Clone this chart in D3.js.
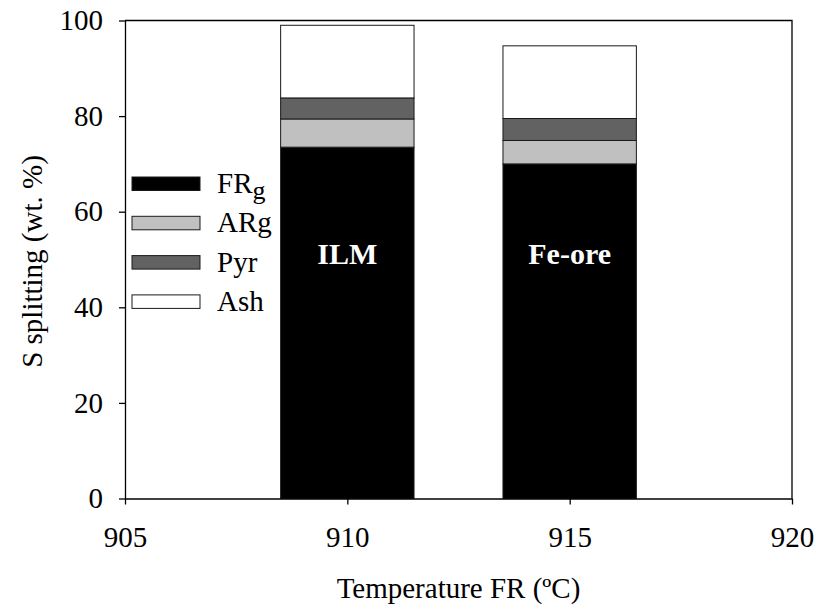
<!DOCTYPE html>
<html>
<head>
<meta charset="utf-8">
<script src="https://cdn.jsdelivr.net/npm/d3@7"></script>
<style>
  body { margin: 0; background: #fff; }
  svg text { font-family: "Liberation Serif", "Times New Roman", serif; }
</style>
</head>
<body>
<svg id="chart"></svg>
<script>
// data
const samples = ["ILM", "Fe-ore"];
const temperatures = [910, 915];
const seriesNames = ["FRg", "ARg", "Pyr", "Ash"];
const FRg = [73.5, 70.0];
const ARg = [5.9, 4.9];
const Pyr = [4.4, 4.6];
const Ash = [15.2, 15.2];
const xTicks = [905, 910, 915, 920];
const yTicks = [0, 20, 40, 60, 80, 100];

const colors = { FRg: "#000000", ARg: "#c0c0c0", Pyr: "#626262", Ash: "#ffffff" };

const width = 816, height = 610;
const margin = { top: 20.5, right: 24, bottom: 111.5, left: 125 };
const fontSize = "29px";

const svg = d3.select("#chart")
    .attr("width", width)
    .attr("height", height);

const x = d3.scaleLinear().domain([905, 920]).range([margin.left, width - margin.right]);
const y = d3.scaleLinear().domain([0, 100]).range([height - margin.bottom, margin.top]);

// stack the series
const table = samples.map((s, i) => ({
    sample: s, temp: temperatures[i],
    FRg: FRg[i], ARg: ARg[i], Pyr: Pyr[i], Ash: Ash[i]
}));
const stacked = d3.stack().keys(seriesNames)(table);

const barHalf = 1.5; // half bar width in axis units

const layers = svg.append("g").selectAll("g")
    .data(stacked)
    .enter().append("g")
    .attr("fill", d => colors[d.key]);

layers.selectAll("rect")
    .data(d => d)
    .enter().append("rect")
    .attr("x", d => x(d.data.temp - barHalf))
    .attr("width", d => x(d.data.temp + barHalf) - x(d.data.temp - barHalf))
    .attr("y", d => y(d[1]))
    .attr("height", d => y(d[0]) - y(d[1]))
    .attr("stroke", "#1a1a1a")
    .attr("stroke-width", 1);

// labels inside bars
svg.append("g").selectAll("text")
    .data(table)
    .enter().append("text")
    .attr("x", d => x(d.temp))
    .attr("y", 264)
    .attr("text-anchor", "middle")
    .attr("fill", "#fff")
    .style("font-weight", "bold")
    .style("font-size", "30px")
    .text(d => d.sample);

// frame (top + right)
svg.append("path")
    .attr("d", `M${margin.left},${margin.top}H${width - margin.right}V${height - margin.bottom}`)
    .attr("fill", "none")
    .attr("stroke", "#000")
    .attr("stroke-width", 1.3);

// axes
const xAxis = d3.axisBottom(x).tickValues(xTicks).tickSize(6).tickSizeOuter(0).tickPadding(22);
const yAxis = d3.axisLeft(y).tickValues(yTicks).tickSize(6).tickSizeOuter(0).tickPadding(16);

const gx = svg.append("g")
    .attr("transform", `translate(0,${height - margin.bottom})`)
    .call(xAxis);
const gy = svg.append("g")
    .attr("transform", `translate(${margin.left},0)`)
    .call(yAxis);

[gx, gy].forEach(g => {
    g.selectAll("path, line").attr("stroke", "#000").attr("stroke-width", 1.3);
    g.selectAll("text")
        .attr("fill", "#000")
        .style("font-family", '"Liberation Serif", serif')
        .style("font-size", fontSize);
});

// axis titles
svg.append("text")
    .attr("x", (x(905) + x(920)) / 2)
    .attr("y", 598)
    .attr("text-anchor", "middle")
    .style("font-size", fontSize)
    .text("Temperature FR (ºC)");

svg.append("text")
    .attr("transform", `translate(42,${y(50) + 2}) rotate(-90)`)
    .attr("text-anchor", "middle")
    .style("font-size", fontSize)
    .text("S splitting (wt. %)");

// legend
const legend = svg.append("g").selectAll("g")
    .data(seriesNames)
    .enter().append("g")
    .attr("transform", (d, i) => `translate(132,${177 + i * 39.3})`);

legend.append("rect")
    .attr("width", 68)
    .attr("height", 13.5)
    .attr("fill", d => colors[d])
    .attr("stroke", "#1a1a1a")
    .attr("stroke-width", 1);

const legendText = legend.append("text")
    .attr("x", 85)
    .attr("y", 16)
    .style("font-size", fontSize);

legendText.each(function(d) {
    const t = d3.select(this);
    if (d === "FRg") {
        t.append("tspan").text("FR");
        t.append("tspan").attr("dy", 6).style("font-size", "26px").text("g");
    } else {
        t.text(d);
    }
});
</script>
</body>
</html>
